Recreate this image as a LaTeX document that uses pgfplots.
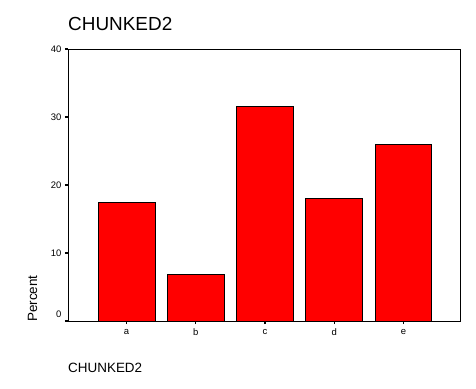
\documentclass[border=0pt]{standalone}
\usepackage{pgfplots}
\pgfplotsset{compat=1.18}
\usepackage{fontspec}
\setmainfont{Liberation Sans}
\begin{document}
\begin{tikzpicture}
\path[use as bounding box] (-68bp,-68bp) rectangle (408bp,321bp);
\begin{axis}[
  at={(0,0)}, anchor=south west,
  scale only axis, width=392bp, height=272bp,
  xmin=-0.845, xmax=4.816, ymin=0, ymax=40,
  xtick={0,1,2,3,4}, xticklabels={a,b,c,d,e},
  ytick={0,10,20,30,40}, yticklabels={\raisebox{13bp}{0},10,20,30,40},
  axis line style={line width=0.9pt},
  tick style={line width=1.2pt, black},
  major tick length=3bp,
  tick align=outside,
  xtick pos=bottom, ytick pos=left,
  tick label style={font=\fontsize{9.5}{10}\selectfont},
  yticklabel style={xshift=0pt},
  xticklabel style={yshift=-1.5bp},
  clip=false,
]
\addplot[ybar, bar width=0.82, fill={rgb,255:red,255;green,0;blue,0}, draw=black, line width=0.8pt]
  coordinates {(0,17.4) (1,6.9) (2,31.6) (3,18.0) (4,26.0)};
\end{axis}
\node[anchor=base west, font=\fontsize{19}{21}\selectfont, inner sep=0] at (0bp,290bp) {CHUNKED2};
\node[anchor=base west, font=\fontsize{13.5}{15}\selectfont, inner sep=0] at (0bp,-51bp) {CHUNKED2};
\node[anchor=base west, rotate=90, font=\fontsize{13.5}{15}\selectfont, inner sep=0] at (-31bp,-1bp) {Percent};
\end{tikzpicture}
\end{document}
